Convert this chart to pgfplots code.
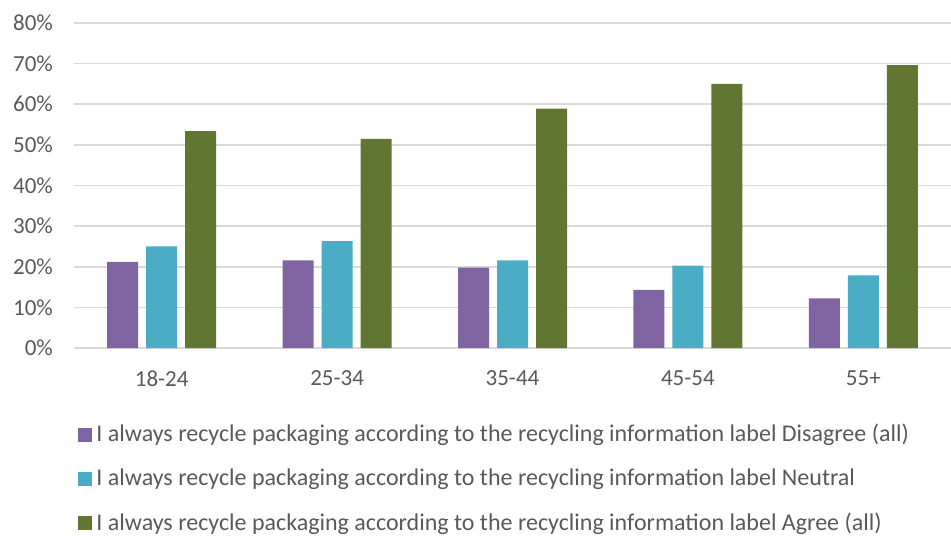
\documentclass[border=0pt]{standalone}
\usepackage{fontspec}
\setmainfont{Carlito}
\usepackage{pgfplots}
\pgfplotsset{compat=1.18}
\definecolor{cpurple}{HTML}{8064A2}
\definecolor{cteal}{HTML}{4BACC6}
\definecolor{cgreen}{HTML}{617731}
\definecolor{cgrid}{HTML}{D9D9D9}
\definecolor{ctext}{HTML}{595959}
\begin{document}
\begin{tikzpicture}
\useasboundingbox (-37pt,-93.5pt) rectangle (438.5pt,174pt);
\begin{axis}[
    scale only axis,
    width=438.5pt, height=162.5pt,
    ybar=4pt, bar width=15.5pt,
    xmin=-0.5, xmax=4.5,
    ymin=0, ymax=80,
    xtick={0,1,2,3,4},
    xticklabels={18-24,25-34,35-44,45-54,55+},
    ytick={0,10,...,80},
    yticklabel={\pgfmathprintnumber{\tick}\%},
    /pgf/number format/assume math mode=true,
    axis line style={draw=none},
    major tick length=0pt,
    ymajorgrids=true,
    grid style={cgrid, line width=0.8pt},
    tick label style={font=\fontsize{11.5}{13}\selectfont, text=ctext},
    yticklabel style={xshift=-7pt},
    xticklabel style={yshift=-8pt},
    legend cell align=left,
    legend style={at={(axis description cs:0,0)}, anchor=north west,
        xshift=-1pt, yshift=-34pt, draw=none, fill=none,
        font=\fontsize{12}{14}\selectfont, text=ctext,
        row sep=8pt},
    legend image code/.code={\fill[#1] (0pt,-3.5pt) rectangle (7pt,3.5pt);},
]
\addplot[fill=cpurple, draw=none] coordinates {
    (0,21.2) (1,21.6) (2,19.8) (3,14.3) (4,12.2)
};
\addlegendentry{I always recycle packaging according to the recycling information label Disagree (all)}
\addplot[fill=cteal, draw=none] coordinates {
    (0,25.0) (1,26.3) (2,21.6) (3,20.3) (4,17.9)
};
\addlegendentry{I always recycle packaging according to the recycling information label Neutral}
\addplot[fill=cgreen, draw=none] coordinates {
    (0,53.4) (1,51.5) (2,58.9) (3,65.0) (4,69.6)
};
\addlegendentry{I always recycle packaging according to the recycling information label Agree (all)}
\end{axis}
\end{tikzpicture}
\end{document}
